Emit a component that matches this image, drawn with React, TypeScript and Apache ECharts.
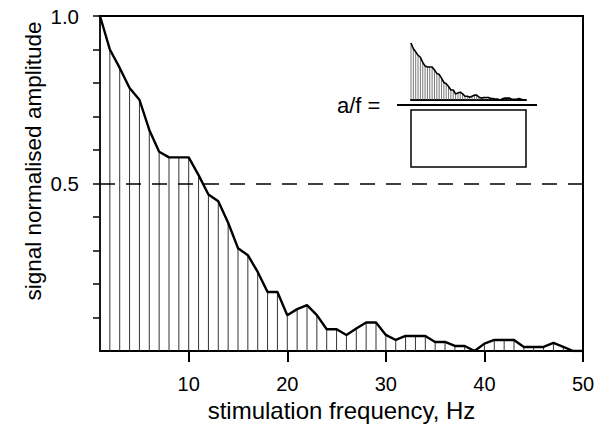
import React, { useEffect, useRef } from "react";
import * as echarts from "echarts";

const frequencies = [
  1, 2, 3, 4, 5, 6, 7, 8, 9, 10,
  11, 12, 13, 14, 15, 16, 17, 18, 19, 20,
  21, 22, 23, 24, 25, 26, 27, 28, 29, 30,
  31, 32, 33, 34, 35, 36, 37, 38, 39, 40,
  41, 42, 43, 44, 45, 46, 47, 48, 49, 50,
];
const amplitudes = [
  1.0, 0.9, 0.845, 0.785, 0.75, 0.66, 0.595, 0.578, 0.578, 0.578,
  0.525, 0.467, 0.447, 0.383, 0.307, 0.286, 0.236, 0.176, 0.176, 0.107,
  0.125, 0.137, 0.107, 0.065, 0.065, 0.048, 0.067, 0.085, 0.085, 0.048,
  0.033, 0.045, 0.045, 0.045, 0.027, 0.027, 0.015, 0.015, 0.0, 0.022,
  0.033, 0.033, 0.033, 0.012, 0.012, 0.012, 0.024, 0.012, 0.0, 0.0,
];
const xTickValues = [10, 20, 30, 40, 50];
const yTickValues = [0.1, 0.2, 0.3, 0.4, 0.5, 0.6, 0.7, 0.8, 0.9, 1.0];
const yLabelValues = [0.5, 1.0];
const thresholdLevel = 0.5;
const xTitle = "stimulation frequency, Hz";
const yTitle = "signal normalised amplitude";
const insetLabel = "a/f =";

const FONT = "'Liberation Sans', Arial, Helvetica, sans-serif";

export default function App() {
  const ref = useRef<HTMLDivElement>(null);
  useEffect(() => {
    document.body.style.margin = "0";
    if (!ref.current) return;
    const chart = echarts.init(ref.current, undefined, { renderer: "svg" });
    const points = frequencies.map((f, i) => [f, amplitudes[i]]);

    const dropLines = (stroke: string, width: number) => (params: any, api: any) => {
      const top = api.coord([api.value(0), api.value(1)]);
      const base = api.coord([api.value(0), 0]);
      return {
        type: "line",
        shape: { x1: top[0], y1: top[1], x2: base[0], y2: base[1] },
        style: { stroke, lineWidth: width },
      };
    };

    chart.setOption({
      animation: false,
      backgroundColor: "#ffffff",
      grid: [
        {
          left: 100, right: 22, top: 16, bottom: 84,
          show: true, borderColor: "#000", borderWidth: 2, backgroundColor: "transparent",
        },
        { left: 411, width: 115, top: 43, height: 57 },
      ],
      xAxis: [
        {
          type: "value", gridIndex: 0, min: 1, max: 50,
          name: xTitle, nameLocation: "middle", nameGap: 41,
          nameTextStyle: { fontFamily: FONT, fontSize: 24, color: "#000" },
          axisLine: { show: true, lineStyle: { color: "#000", width: 2 } },
          axisTick: { show: true, inside: false, length: 11, customValues: xTickValues, lineStyle: { color: "#000", width: 2 } },
          axisLabel: { customValues: xTickValues, margin: 23, fontFamily: FONT, fontSize: 20, color: "#000" },
          splitLine: { show: false },
        },
        {
          type: "value", gridIndex: 1, min: 1, max: 50,
          axisLine: { show: true, lineStyle: { color: "#000", width: 2 } },
          axisTick: { show: false }, axisLabel: { show: false }, splitLine: { show: false },
        },
      ],
      yAxis: [
        {
          type: "value", gridIndex: 0, min: 0, max: 1,
          axisLine: { show: true, lineStyle: { color: "#000", width: 2 } },
          axisTick: { show: true, inside: false, length: 7, customValues: yTickValues, lineStyle: { color: "#000", width: 1.5 } },
          axisLabel: {
            customValues: yLabelValues, margin: 21, fontFamily: FONT, fontSize: 20.5, color: "#000",
            formatter: (v: number) => v.toFixed(1),
          },
          splitLine: { show: false },
        },
        {
          type: "value", gridIndex: 1, min: 0, max: 1, show: false,
        },
      ],
      series: [
        {
          type: "custom", xAxisIndex: 0, yAxisIndex: 0, data: points,
          encode: { x: 0, y: 1 }, renderItem: dropLines("#333", 1), z: 1,
        },
        {
          type: "line", xAxisIndex: 0, yAxisIndex: 0, data: points, symbol: "none",
          lineStyle: { color: "#000", width: 2.4 }, z: 3,
          markLine: {
            silent: true, symbol: "none", label: { show: false },
            lineStyle: { color: "#000", width: 1.6, type: [15, 11] },
            data: [{ yAxis: thresholdLevel }],
          },
        },
        {
          type: "custom", xAxisIndex: 1, yAxisIndex: 1, data: points,
          encode: { x: 0, y: 1 }, renderItem: dropLines("#555", 0.8), z: 1,
        },
        {
          type: "line", xAxisIndex: 1, yAxisIndex: 1, data: points, symbol: "none",
          lineStyle: { color: "#000", width: 1.6 }, z: 3,
        },
      ],
      graphic: [
        {
          type: "text", x: 33, y: 161, rotation: Math.PI / 2,
          style: {
            text: yTitle, font: `22.5px ${FONT}`, fill: "#000",
            textAlign: "center", textVerticalAlign: "middle", align: "center", verticalAlign: "middle",
          },
        },
        {
          type: "text", x: 337, y: 105,
          style: {
            text: insetLabel, font: `22px ${FONT}`, fill: "#000",
            textAlign: "left", textVerticalAlign: "middle", align: "left", verticalAlign: "middle",
          },
        },
        {
          type: "line", shape: { x1: 397, y1: 105, x2: 537, y2: 105 },
          style: { stroke: "#000", lineWidth: 2 },
        },
        {
          type: "rect", shape: { x: 411, y: 110, width: 115, height: 57 },
          style: { stroke: "#000", lineWidth: 1.5, fill: "none" },
        },
      ],
    });
    return () => chart.dispose();
  }, []);
  return <div ref={ref} style={{ width: 605, height: 435 }} />;
}
